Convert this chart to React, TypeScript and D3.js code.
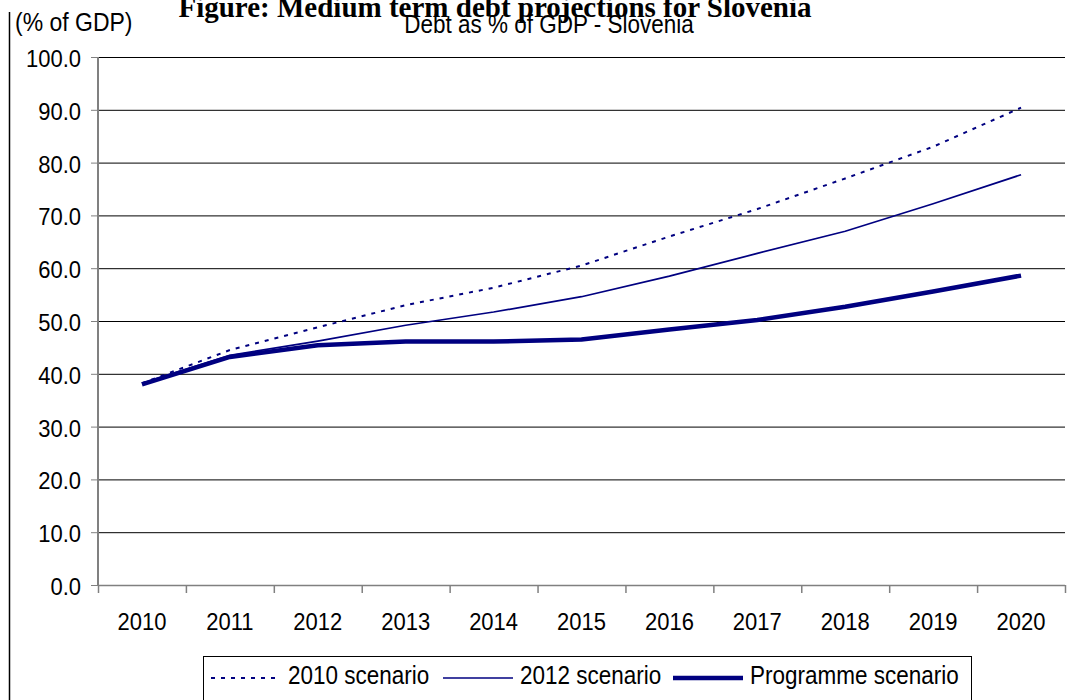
import React from 'react'
import * as d3 from 'd3'

const years = ['2010', '2011', '2012', '2013', '2014', '2015', '2016', '2017', '2018', '2019', '2020']
const scenario2010 = [38.2, 44.5, 48.8, 53.0, 56.3, 60.5, 66.0, 71.2, 77.0, 83.0, 90.4]
const scenario2012 = [38.2, 43.5, 46.2, 49.2, 51.7, 54.6, 58.5, 62.8, 67.0, 72.2, 77.7]
const programme = [38.0, 43.2, 45.4, 46.1, 46.1, 46.5, 48.4, 50.2, 52.7, 55.6, 58.6]
const yTicks = [0, 10, 20, 30, 40, 50, 60, 70, 80, 90, 100]

const W = 1077
const H = 700
const left = 98
const right = 1065
const top = 57
const bottom = 585
const navy = '#000080'
const sans = 'Liberation Sans, Arial, sans-serif'

// text drawn a little taller than wide, like the original export
function T (props: { x: number, y: number, size: number, anchor?: string, children: React.ReactNode }) {
  return (
    <text transform={`translate(${props.x},${props.y}) scale(1,1.12)`} textAnchor={props.anchor || 'start'}
      fontFamily={sans} fontSize={props.size}>{props.children}</text>
  )
}

export default function App () {
  const x = d3.scaleBand().domain(years).range([left, right])
  const y = d3.scaleLinear().domain([0, 100]).range([bottom, top])
  const cx = (i: number) => (x(years[i]) as number) + x.bandwidth() / 2
  const line = d3.line<number>().x((d, i) => cx(i)).y(d => y(d))

  const series = [
    { name: '2010 scenario', data: scenario2010, width: 2, dash: '4,6' },
    { name: '2012 scenario', data: scenario2012, width: 1.7, dash: undefined },
    { name: 'Programme scenario', data: programme, width: 4.5, dash: undefined }
  ]
  const legendX = [211, 443, 673]

  return (
    <svg width={W} height={H} style={{ position: 'absolute', left: 0, top: 0, background: '#fff' }}>
      <rect width={W} height={H} fill='#fff' />
      <text x={495} y={17} textAnchor='middle' fontFamily='Liberation Serif, Times New Roman, serif'
        fontWeight='bold' fontSize={29}>Figure: Medium term debt projections for Slovenia</text>
      <line x1={9.5} x2={9.5} y1={12} y2={H} stroke='#000' strokeWidth={1.5} />
      <T x={15} y={31} size={23}>(% of GDP)</T>
      <T x={549} y={33} size={22.5} anchor='middle'>Debt as % of GDP - Slovenia</T>

      {yTicks.map(t => (
        <g key={t}>
          {t > 0 && <line x1={left} x2={right} y1={y(t) + 0.5} y2={y(t) + 0.5} stroke='#000' strokeWidth={1} />}
          <line x1={left - 7} x2={left} y1={y(t) + 0.5} y2={y(t) + 0.5} stroke='#808080' strokeWidth={1} />
          <T x={81} y={y(t) + 10} size={22} anchor='end'>{t.toFixed(1)}</T>
        </g>
      ))}
      <line x1={left} x2={left} y1={top} y2={bottom} stroke='#808080' strokeWidth={2} />
      <line x1={left} x2={right} y1={bottom + 0.5} y2={bottom + 0.5} stroke='#808080' strokeWidth={1.5} />
      {years.map((yr, i) => (
        <g key={yr}>
          <line x1={(x(yr) as number) + 0.5} x2={(x(yr) as number) + 0.5} y1={bottom} y2={bottom + 8} stroke='#808080' strokeWidth={1.5} />
          <T x={cx(i)} y={630} size={22} anchor='middle'>{yr}</T>
        </g>
      ))}
      <line x1={right + 0.5} x2={right + 0.5} y1={bottom} y2={bottom + 8} stroke='#808080' strokeWidth={1.5} />

      {series.map(s => (
        <path key={s.name} d={line(s.data) || ''} fill='none' stroke={navy} strokeWidth={s.width}
          strokeDasharray={s.dash} strokeLinejoin='round' />
      ))}

      <rect x={203.5} y={656.5} width={768} height={50} fill='#fff' stroke='#000' strokeWidth={1} />
      {series.map((s, i) => (
        <g key={s.name}>
          <line x1={legendX[i]} x2={legendX[i] + 70} y1={678} y2={678} stroke={navy} strokeWidth={s.width} strokeDasharray={s.dash} />
          <T x={legendX[i] + 77} y={684} size={22.5}>{s.name}</T>
        </g>
      ))}
    </svg>
  )
}
